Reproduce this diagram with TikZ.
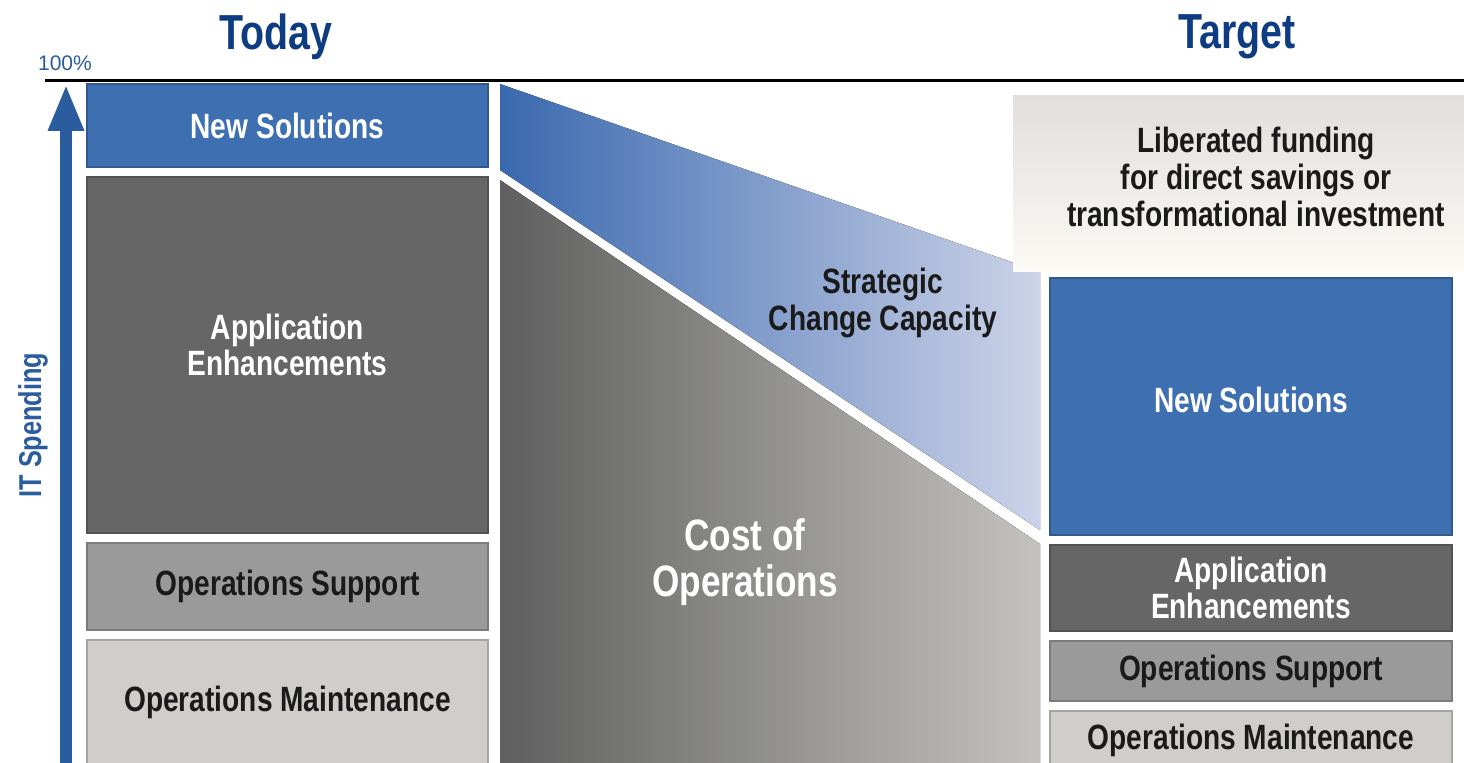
\documentclass[tikz,border=0pt]{standalone}
\usepackage{fontspec}
\setmainfont{Liberation Sans}[FakeStretch=0.8]
\newfontfamily\plainsans{Liberation Sans}
\usepackage{tikz}
\usetikzlibrary{arrows.meta, positioning, shapes}

\definecolor{nsblue}{HTML}{3D6FB1}
\definecolor{aegray}{HTML}{666666}
\definecolor{osgray}{HTML}{9A9A9A}
\definecolor{omgray}{HTML}{D0CECB}
\definecolor{titleblue}{HTML}{0D3C82}
\definecolor{axisblue}{HTML}{2A5C9E}
\definecolor{capleft}{HTML}{3A69AF}
\definecolor{capright}{HTML}{CDD3E8}
\definecolor{costleft}{HTML}{5F5F5F}
\definecolor{costright}{HTML}{C3C2BE}
\definecolor{libtop}{HTML}{E1DFDC}
\definecolor{libbot}{HTML}{FCFAF5}
\definecolor{inkdark}{HTML}{1A1A1A}

\begin{document}
\begin{tikzpicture}[x=0.02cm, y=-0.02cm,
  every node/.style={inner sep=0pt, outer sep=0pt},
  seg/.style={rectangle, draw=#1!80!black, fill=#1, line width=0.8pt, align=center,
    font=\bfseries\fontsize{20}{20.5}\selectfont},
  darktext/.style={text=white}, lighttext/.style={text=inkdark},
  lbl/.style={align=center, font=\bfseries\fontsize{20}{21}\selectfont, text=inkdark},
  title/.style={font=\bfseries\fontsize{28}{30}\selectfont, text=titleblue}]
  \useasboundingbox (0,0) rectangle (1464,762);

  % middle wedge and cost block
  \fill[left color=capleft, right color=capright] (500,84) -- (1040,272) -- (1040,530) -- (500,170) -- cycle;
  \fill[left color=costleft, right color=costright] (500,180) -- (1040,544) -- (1040,770) -- (500,770) -- cycle;

  % liberated funding backdrop
  \node[rectangle, top color=libtop, bottom color=libbot, minimum width=9.14cm, minimum height=3.54cm] (lib) at (1241.5,183.5) {};
  \node[lbl] (libtxt) at (1256,177) {Liberated funding\\for direct savings or\\transformational investment};

  % today column
  \node[seg=nsblue, darktext, minimum width=8.02cm, minimum height=1.66cm] (NSL) at (287.5,125.5) {New Solutions};
  \node[seg=aegray, minimum width=8.02cm, minimum height=7.12cm] (AEL) [below=0.2cm of NSL] {};
  \node[lbl, darktext] (AELt) at ([yshift=0.2cm]AEL.center) {Application\\Enhancements};
  \node[seg=osgray, lighttext, minimum width=8.02cm, minimum height=1.74cm] (OSL) [below=0.2cm of AEL] {Operations Support};
  \node[seg=omgray, lighttext, minimum width=8.02cm, minimum height=2.5cm] (OML) [below=0.2cm of OSL] {Operations Maintenance};

  % target column
  \node[seg=nsblue, minimum width=8.04cm, minimum height=5.14cm] (NSR) at (1251,406.5) {};
  \node[lbl, darktext] (NSRt) at ([yshift=0.14cm]NSR.center) {New Solutions};
  \node[seg=aegray, darktext, minimum width=8.04cm, minimum height=1.72cm] (AER) [below=0.2cm of NSR] {Application\\Enhancements};
  \node[seg=osgray, lighttext, minimum width=8.04cm, minimum height=1.2cm] (OSR) [below=0.2cm of AER] {Operations Support};
  \node[seg=omgray, lighttext, minimum width=8.04cm, minimum height=1.16cm] (OMR) [below=0.2cm of OSR] {Operations Maintenance};

  \node[lbl] (cap) at (883,303) {Strategic\\Change Capacity};
  \node[align=center, text=white, font=\bfseries\fontsize{25}{26}\selectfont] (cost) at (745,562) {Cost of\\Operations};

  % axis
  \coordinate (abot) at (66,775);
  \coordinate (atop) at (66,84);
  \draw[axisblue, line width=0.24cm, -{Triangle[width=0.66cm, length=0.94cm]}] (abot) -- (atop);
  \coordinate (tl) at (45,80);
  \coordinate (tr) at (1464,80);
  \draw[line width=1.7pt] (tl) -- (tr);
  \node[font=\plainsans\fontsize{12}{12}\selectfont, text=axisblue] (pct) at (65,63) {100\%};
  \node[rotate=90, font=\bfseries\fontsize{18}{18}\selectfont, text=axisblue] (itsp) at (33,425) {IT Spending};

  \node[title] (today) at (276,37) {Today};
  \node[title] (target) at (1237,37) {Target};
\end{tikzpicture}
\end{document}
